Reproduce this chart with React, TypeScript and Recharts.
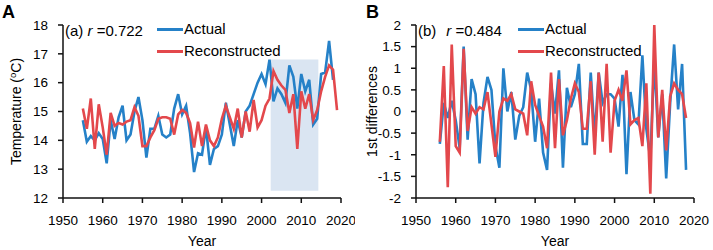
import React from 'react';
import { LineChart, Line, XAxis, YAxis, ReferenceArea, Legend } from 'recharts';

const FONT = '"Liberation Sans", Arial, sans-serif';
const BLUE = '#2581c8';
const RED = '#e3484c';

// panel A: annual temperature, 1955-2019
const YEARS_A = Array.from({ length: 65 }, (_, i) => 1955 + i);
const ACTUAL_A = [
  14.7, 13.95, 14.15, 14.0, 14.25, 14.05, 13.2, 14.7, 14.05, 14.8,
  15.2, 14.0, 14.2, 15.0, 15.5, 14.7, 13.4, 14.4, 14.4, 14.85,
  14.2, 14.1, 14.2, 15.1, 15.6, 14.9, 15.2, 14.25, 12.9, 13.55,
  13.5, 14.45, 13.15, 13.7, 13.8, 14.2, 15.3, 14.55, 13.8, 14.7,
  14.1, 15.0, 15.2, 15.6, 16.0, 16.3, 15.95, 16.8, 15.35, 15.8,
  15.6, 15.3, 16.6, 16.2, 15.1, 16.3, 15.7, 16.1, 14.55, 14.75,
  16.3, 16.35, 17.45, 16.1
];
const RECON_A = [
  15.1, 14.4, 15.45, 13.7, 15.25, 14.45, 13.5, 14.95, 14.5, 14.6,
  14.55, 14.65, 14.7, 15.15, 14.85, 13.8, 13.8, 14.1, 14.35, 14.75,
  14.8, 14.8, 14.75, 14.2, 14.9, 15.05, 14.95, 14.6, 13.75, 14.65,
  13.8, 14.55, 14.0, 13.8, 14.1, 14.75, 15.2, 14.8, 14.4, 15.1,
  14.1, 15.0, 14.3, 15.4, 14.45, 14.7, 15.2, 15.45, 16.4, 16.1,
  15.9, 15.75, 14.95, 15.6, 13.7, 15.7, 15.1, 15.6, 14.7, 15.05,
  15.7, 16.2, 16.6, 16.45, 15.05
];

// panel B: first differences, 1956-2018
const YEARS_B = Array.from({ length: 63 }, (_, i) => 1956 + i);
const ACTUAL_B = [
  -0.75, 0.2, -0.15, 0.25, -0.2, -0.85, 1.5, -0.65, 0.75, 0.4,
  -1.2, 0.2, 0.8, 0.5, -0.8, -1.3, 1.0, 0, 0.45, -0.65,
  -0.1, 0.1, 0.9, 0.5, -0.7, 0.3, -0.95, -1.35, 0.65, -0.05,
  0.95, -1.3, 0.55, 0.1, 0.4, 1.1, -0.75, -0.75, 0.9, -0.6,
  0.9, 0.2, 0.4, 0.4, 0.3, -0.35, 0.85, -1.45, 0.45, -0.2,
  -0.3, 1.3, -0.4, -1.1, 1.2, -0.6, 0.4, -1.55, 0.2, 1.55,
  0.05, 1.1, -1.35
];
const RECON_B = [
  -0.7, 1.05, -1.75, 1.55, -0.8, -0.95, 1.45, -0.45, 0.1, -0.05,
  0.1, 0.05, 0.45, -0.3, -1.05, 0, 0.3, 0.25, 0.4, 0.05,
  0, -0.05, -0.55, 0.7, 0.15, -0.1, -0.35, -0.85, 0.9, -0.85,
  0.75, -0.55, -0.2, 0.3, 0.65, 0.45, -0.4, -0.4, 0.7, -1.0,
  0.9, -0.7, 1.1, -0.95, 0.25, 0.5, 0.25, 0.95, -0.3, -0.2,
  -0.15, -0.8, 0.65, -1.9, 2.0, -0.6, 0.5, -0.9, 0.35, 0.65,
  0.5, 0.4, -0.15
];

const X_TICKS = [1950, 1960, 1970, 1980, 1990, 2000, 2010, 2020];
const Y_TICKS_A = [12, 13, 14, 15, 16, 17, 18];
const Y_TICKS_B = [-2, -1.5, -1, -0.5, 0, 0.5, 1, 1.5, 2];

const dataA = YEARS_A.map((year, i) => ({
  year,
  actual: i < ACTUAL_A.length ? ACTUAL_A[i] : null,
  reconstructed: RECON_A[i]
}));
const dataB = YEARS_B.map((year, i) => ({
  year,
  actual: ACTUAL_B[i],
  reconstructed: RECON_B[i]
}));

const tickStyle = { fill: '#000', fontSize: 13.5, fontFamily: FONT };
const axisLine = { stroke: '#111', strokeWidth: 1.5 };

const renderLegend = () => (
  <div style={{ fontFamily: FONT, fontSize: 15, color: '#000', lineHeight: '22px' }}>
    {[
      { name: 'Actual', color: BLUE },
      { name: 'Reconstructed', color: RED }
    ].map(item => (
      <div key={item.name} style={{ display: 'flex', alignItems: 'center', whiteSpace: 'nowrap' }}>
        <span style={{ display: 'inline-block', width: 26, height: 3, background: item.color, marginRight: 1 }} />
        <span>{item.name}</span>
      </div>
    ))}
  </div>
);

export default function App() {
  return (
    <div style={{ position: 'absolute', left: 0, top: 0, width: 713, height: 250, background: '#fff' }}>
      <div style={{ position: 'absolute', left: 0, top: 0 }}>
        <LineChart width={355} height={250} data={dataA} margin={{ top: 25, right: 14, bottom: 22, left: 0 }}>
          <XAxis
            dataKey="year"
            type="number"
            domain={[1950, 2020]}
            ticks={X_TICKS}
            height={30}
            tickSize={5}
            tickMargin={12}
            tick={tickStyle}
            axisLine={axisLine}
            tickLine={axisLine}
          />
          <YAxis
            type="number"
            domain={[12, 18]}
            ticks={Y_TICKS_A}
            width={63}
            tickSize={5}
            tickMargin={10}
            tick={tickStyle}
            axisLine={axisLine}
            tickLine={axisLine}
          />
          <ReferenceArea x1={2002.3} x2={2014.3} y1={12.25} y2={16.8} fill="#dae5f2" fillOpacity={1} stroke="none" />
          <Legend
            layout="horizontal"
            verticalAlign="middle"
            align="center"
            content={renderLegend}
            wrapperStyle={{ position: 'absolute', left: 157, top: 18, width: 'auto' }}
          />
          <Line dataKey="actual" type="linear" stroke={BLUE} strokeWidth={2.6} dot={false} isAnimationActive={false} />
          <Line dataKey="reconstructed" type="linear" stroke={RED} strokeWidth={2.6} dot={false} isAnimationActive={false} />
        </LineChart>
      </div>
      <div style={{ position: 'absolute', left: 355, top: 0 }}>
        <LineChart width={358} height={250} data={dataB} margin={{ top: 25, right: 19, bottom: 22, left: 0 }}>
          <XAxis
            dataKey="year"
            type="number"
            domain={[1950, 2020]}
            ticks={X_TICKS}
            height={30}
            tickSize={5}
            tickMargin={12}
            tick={tickStyle}
            axisLine={axisLine}
            tickLine={axisLine}
          />
          <YAxis
            type="number"
            domain={[-2, 2]}
            ticks={Y_TICKS_B}
            tickFormatter={(v: number) => String(v)}
            width={61}
            tickSize={5}
            tickMargin={10}
            tick={tickStyle}
            axisLine={axisLine}
            tickLine={axisLine}
          />
          <Legend
            layout="horizontal"
            verticalAlign="middle"
            align="center"
            content={renderLegend}
            wrapperStyle={{ position: 'absolute', left: 163, top: 18, width: 'auto' }}
          />
          <Line dataKey="actual" type="linear" stroke={BLUE} strokeWidth={2.6} dot={false} isAnimationActive={false} />
          <Line dataKey="reconstructed" type="linear" stroke={RED} strokeWidth={2.6} dot={false} isAnimationActive={false} />
        </LineChart>
      </div>
      <svg
        width={713}
        height={250}
        style={{ position: 'absolute', left: 0, top: 0, pointerEvents: 'none' }}
        fontFamily={FONT}
      >
        <text x={2} y={18} fontSize={18} fontWeight="bold">A</text>
        <text x={366} y={18} fontSize={18} fontWeight="bold">B</text>
        <text x={65} y={36} fontSize={15}>
          (a) <tspan fontStyle="italic">r</tspan> =0.722
        </text>
        <text x={418} y={36} fontSize={15}>
          (b)<tspan dx={10} fontStyle="italic">r</tspan> =0.484
        </text>
        <text x={202} y={246} fontSize={14} textAnchor="middle">Year</text>
        <text x={555} y={246} fontSize={14} textAnchor="middle">Year</text>
        <text x={21} y={111.5} fontSize={14} textAnchor="middle" transform="rotate(-90 21 111.5)">
          Temperature (<tspan fontSize={9.5} dy={-5}>o</tspan><tspan dy={5}>C)</tspan>
        </text>
        <text x={377} y={111.5} fontSize={14} textAnchor="middle" transform="rotate(-90 377 111.5)">
          1st differences
        </text>
      </svg>
    </div>
  );
}
